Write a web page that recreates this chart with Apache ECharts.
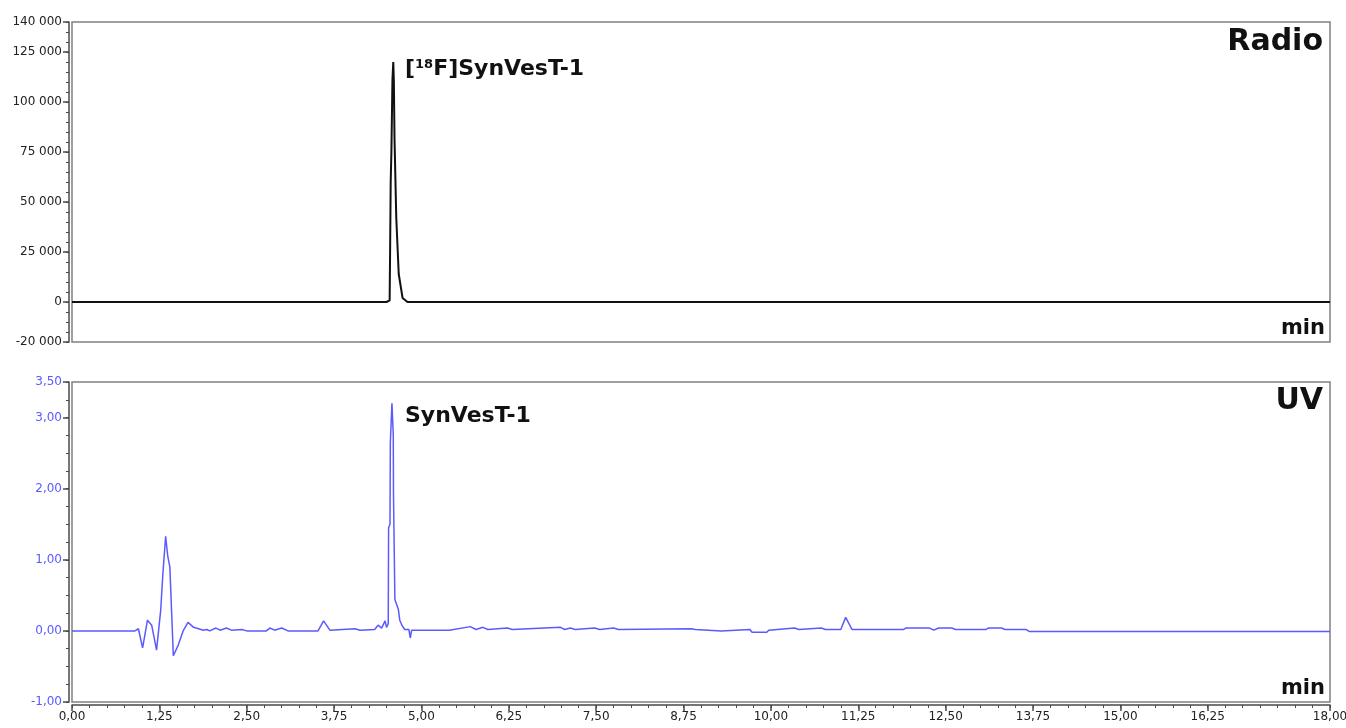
<!DOCTYPE html>
<html>
<head>
<meta charset="utf-8">
<script src="https://cdn.jsdelivr.net/npm/echarts@6/dist/echarts.min.js"></script>
<style>
  html, body { margin: 0; padding: 0; background: #fff; }
  #main { width: 1346px; height: 728px; }
</style>
</head>
<body>
<div id="main"></div>
<script>
// Radio trace (counts)
const radioTimes = [0, 4.50, 4.545, 4.552, 4.56, 4.57, 4.585, 4.597, 4.605, 4.615, 4.64, 4.675, 4.73, 4.80, 18];
const radioValues = [0, 0, 800, 27000, 60000, 75000, 111000, 120000, 111000, 81000, 42000, 14000, 2000, 0, 0];

// UV trace (AU)
const uvTimes = [
  0, 0.90, 0.95, 1.01, 1.08, 1.14, 1.21, 1.27, 1.30, 1.34, 1.37, 1.40, 1.43, 1.45,
  1.52, 1.59, 1.66, 1.74, 1.81, 1.88, 1.93, 1.97, 2.06, 2.12, 2.21, 2.28, 2.43, 2.50,
  2.78, 2.83, 2.90, 3.00, 3.09, 3.52, 3.60, 3.69, 4.05, 4.12, 4.33, 4.38, 4.43, 4.48,
  4.50, 4.525, 4.53, 4.55, 4.555, 4.578, 4.597, 4.60, 4.62, 4.67, 4.69, 4.72, 4.76,
  4.82, 4.84, 4.86, 5.40, 5.70, 5.78, 5.88, 5.95, 6.23, 6.30, 6.99, 7.05, 7.13, 7.20,
  7.48, 7.55, 7.75, 7.82, 8.86, 8.92, 9.29, 9.70, 9.73, 9.94, 9.97, 10.34, 10.40,
  10.72, 10.78, 11.00, 11.07, 11.16, 11.90, 11.93, 12.27, 12.33, 12.40, 12.59, 12.64,
  13.08, 13.11, 13.30, 13.35, 13.65, 13.70, 18.00
];
const uvValues = [
  0, 0, 0.03, -0.24, 0.15, 0.08, -0.27, 0.30, 0.80, 1.33, 1.05, 0.90, 0.15, -0.35,
  -0.20, 0.00, 0.12, 0.05, 0.03, 0.01, 0.02, 0.00, 0.04, 0.01, 0.04, 0.01, 0.02, 0.00,
  0.00, 0.04, 0.01, 0.04, 0.00, 0.00, 0.14, 0.01, 0.03, 0.01, 0.02, 0.08, 0.04, 0.14,
  0.05, 0.10, 1.45, 1.50, 2.65, 3.20, 2.75, 1.93, 0.44, 0.30, 0.15, 0.08, 0.02,
  0.02, -0.10, 0.01, 0.01, 0.06, 0.02, 0.05, 0.02, 0.04, 0.02, 0.05, 0.02, 0.04, 0.02,
  0.04, 0.02, 0.04, 0.02, 0.03, 0.02, 0.00, 0.02, -0.02, -0.02, 0.01, 0.04, 0.02,
  0.04, 0.02, 0.02, 0.19, 0.02, 0.02, 0.04, 0.04, 0.01, 0.04, 0.04, 0.02,
  0.02, 0.04, 0.04, 0.02, 0.02, -0.01, -0.01
];

// tick labels
const radioTickLabels = [-20000, 0, 25000, 50000, 75000, 100000, 125000, 140000];
const uvTickLabels = [-1, 0, 1, 2, 3, 3.5];
const timeTickLabels = [0, 1.25, 2.5, 3.75, 5, 6.25, 7.5, 8.75, 10, 11.25, 12.5, 13.75, 15, 16.25, 18];

const steps = (a, b, s) => {
  const out = [];
  for (let i = 0; a + i * s <= b + 1e-9; i++) out.push(+(a + i * s).toFixed(4));
  return out;
};
const comma = v => v.toFixed(2).replace('.', ',');
const spaced = v => String(v).replace(/\B(?=(\d{3})+(?!\d))/g, ' ');

const labelFont = { fontFamily: 'DejaVu Sans', fontSize: 12 };
const axisDark = '#4a4a4a';
const uvBlue = '#5a5aff';

const chartDom = document.getElementById('main');
const myChart = echarts.init(chartDom);

const gridBase = { left: 72, right: 16, height: 320, show: true, borderColor: '#808080', borderWidth: 1.5, outerBoundsMode: 'none', containLabel: false };

const option = {
  animation: false,
  backgroundColor: '#fff',
  grid: [
    { ...gridBase, top: 22 },
    { ...gridBase, top: 382 }
  ],
  xAxis: [
    {
      gridIndex: 0, type: 'value', min: 0, max: 18, position: 'bottom',
      axisLine: { show: false, onZero: false }, axisTick: { show: false }, axisLabel: { show: false }, splitLine: { show: false }
    },
    {
      gridIndex: 1, type: 'value', min: 0, max: 18, interval: 0.25, offset: 3, position: 'bottom',
      axisLine: { show: true, onZero: false, lineStyle: { color: axisDark, width: 1.5 } },
      axisTick: { show: true, length: 3, customValues: steps(0, 18, 0.25), lineStyle: { color: axisDark } },
      axisLabel: { customValues: timeTickLabels, formatter: comma, color: '#222', margin: 6, ...labelFont },
      splitLine: { show: false }
    },
    {
      gridIndex: 1, type: 'value', min: 0, max: 18, offset: 3, position: 'bottom',
      axisLine: { show: false, onZero: false },
      axisTick: { show: true, length: 6, customValues: timeTickLabels, lineStyle: { color: axisDark, width: 1.5 } },
      axisLabel: { show: false }, splitLine: { show: false }
    }
  ],
  yAxis: [
    {
      gridIndex: 0, type: 'value', min: -20000, max: 140000, interval: 5000, offset: 3, position: 'left',
      axisLine: { show: true, onZero: false, lineStyle: { color: axisDark, width: 1.5 } },
      axisTick: { show: true, length: 3, customValues: steps(-20000, 140000, 5000), lineStyle: { color: axisDark } },
      axisLabel: { customValues: radioTickLabels, formatter: spaced, color: '#222', margin: 7, ...labelFont },
      splitLine: { show: false }
    },
    {
      gridIndex: 0, type: 'value', min: -20000, max: 140000, offset: 3, position: 'left',
      axisLine: { show: false, onZero: false },
      axisTick: { show: true, length: 6, customValues: radioTickLabels, lineStyle: { color: axisDark, width: 1.5 } },
      axisLabel: { show: false }, splitLine: { show: false }
    },
    {
      gridIndex: 1, type: 'value', min: -1, max: 3.5, interval: 0.25, offset: 3, position: 'left',
      axisLine: { show: true, onZero: false, lineStyle: { color: axisDark, width: 1.5 } },
      axisTick: { show: true, length: 3, customValues: steps(-1, 3.5, 0.25), lineStyle: { color: axisDark } },
      axisLabel: { customValues: uvTickLabels, formatter: comma, color: uvBlue, margin: 7, ...labelFont },
      splitLine: { show: false }
    },
    {
      gridIndex: 1, type: 'value', min: -1, max: 3.5, offset: 3, position: 'left',
      axisLine: { show: false, onZero: false },
      axisTick: { show: true, length: 6, customValues: uvTickLabels, lineStyle: { color: axisDark, width: 1.5 } },
      axisLabel: { show: false }, splitLine: { show: false }
    }
  ],
  series: [
    {
      name: 'Radio', type: 'line', xAxisIndex: 0, yAxisIndex: 0,
      data: radioTimes.map((t, i) => [t, radioValues[i]]),
      showSymbol: false, lineStyle: { color: '#111', width: 2 }
    },
    {
      name: 'UV', type: 'line', xAxisIndex: 1, yAxisIndex: 2,
      data: uvTimes.map((t, i) => [t, uvValues[i]]),
      showSymbol: false, lineStyle: { color: uvBlue, width: 1.5 }
    }
  ],
  graphic: [
    {
      type: 'text', left: 405, top: 58,
      style: {
        text: '[{sup|18}F]SynVesT-1',
        font: 'bold 22px "DejaVu Sans"', fill: '#111',
        rich: { sup: { fontSize: 13, fontWeight: 'bold', fontFamily: 'DejaVu Sans', verticalAlign: 'top', fill: '#111' } }
      }
    },
    { type: 'text', left: 405, top: 405, style: { text: 'SynVesT-1', font: 'bold 22px "DejaVu Sans"', fill: '#111' } },
    { type: 'text', right: 23, top: 27, style: { text: 'Radio', font: 'bold 30px "DejaVu Sans"', fill: '#111' } },
    { type: 'text', right: 23, top: 386, style: { text: 'UV', font: 'bold 30px "DejaVu Sans"', fill: '#111' } },
    { type: 'text', right: 21, top: 318, style: { text: 'min', font: 'bold 21px "DejaVu Sans"', fill: '#111' } },
    { type: 'text', right: 21, top: 678, style: { text: 'min', font: 'bold 21px "DejaVu Sans"', fill: '#111' } }
  ]
};

option && myChart.setOption(option);
</script>
</body>
</html>
